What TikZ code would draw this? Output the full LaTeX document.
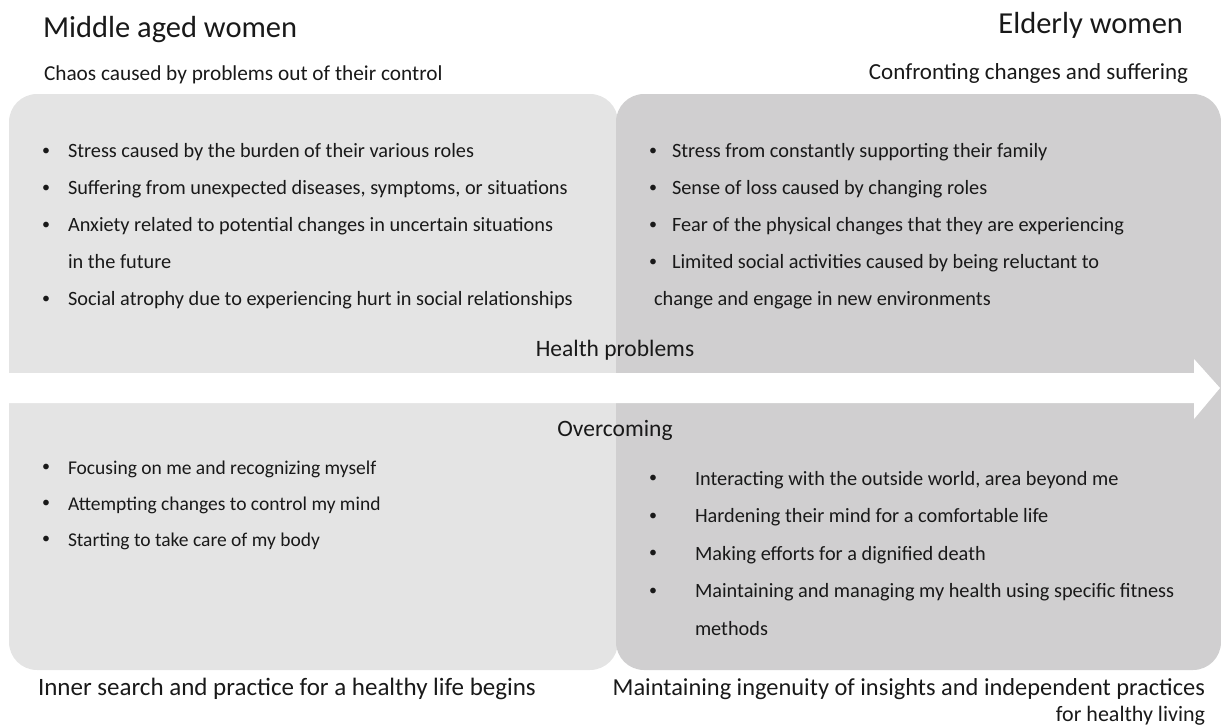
\documentclass[tikz,border=0pt]{standalone}
\usepackage{fontspec}
\setmainfont{Carlito}
\definecolor{leftgray}{RGB}{228,228,228}
\definecolor{rightgray}{RGB}{208,207,208}
\definecolor{ink}{RGB}{25,25,25}
\begin{document}
\begin{tikzpicture}[x=1pt,y=-1pt,
  every node/.style={inner sep=0pt,outer sep=0pt,text=ink},
  title/.style={font=\fontsize{30.5}{34}\selectfont},
  sub/.style={font=\fontsize{21.3}{25}\selectfont},
  item/.style={font=\fontsize{20.3}{24}\selectfont,anchor=base west},
  smallitem/.style={font=\fontsize{19.5}{23}\selectfont,anchor=base west},
  dot/.style={font=\fontsize{16}{19}\selectfont,anchor=base west},
  mid/.style={font=\fontsize{23.5}{27}\selectfont,anchor=base}]
\useasboundingbox (0,0) rectangle (1221,728);
% the two phase panels
\fill[leftgray,rounded corners=28pt] (9,94) rectangle (618,670);
\fill[rightgray,rounded corners=28pt] (616,94) rectangle (1221,670);
% white time arrow through both panels
\fill[white] (0,373) -- (1194,373) -- (1194,359) -- (1220,388)
  -- (1194,419) -- (1194,403) -- (0,403) -- cycle;

% headings
\node[title,anchor=base west] (mh) at (43,37.5) {Middle aged women};
\node[sub,anchor=base west] (ms) at (44,80) {Chaos caused by problems out of their control};
\node[title,anchor=base east] (eh) at (1183,33.5) {Elderly women};
\node[sub,anchor=base east,font=\fontsize{23}{27}\selectfont] (es) at (1188,79) {Confronting changes and suffering};

% middle-aged: health problems
\node[dot] (b1) at (42,155) {•};
\node[item] (t1) at (68,157.5) {Stress caused by the burden of their various roles};
\node[dot] (b2) at (42,192) {•};
\node[item] (t2) at (68,194.5) {Suffering from unexpected diseases, symptoms, or situations};
\node[dot] (b3) at (42,229) {•};
\node[item] (t3) at (68,231.5) {Anxiety related to potential changes in uncertain situations};
\node[item] (t3b) at (68,268.5) {in the future};
\node[dot] (b4) at (42,303) {•};
\node[item] (t4) at (68,305.5) {Social atrophy due to experiencing hurt in social relationships};

% elderly: health problems
\node[dot] (c1) at (649,155) {•};
\node[item] (u1) at (672,157.5) {Stress from constantly supporting their family};
\node[dot] (c2) at (649,192) {•};
\node[item] (u2) at (672,194.5) {Sense of loss caused by changing roles};
\node[dot] (c3) at (649,229) {•};
\node[item] (u3) at (672,231.5) {Fear of the physical changes that they are experiencing};
\node[dot] (c4) at (649,266) {•};
\node[item] (u4) at (672,268.5) {Limited social activities caused by being reluctant to};
\node[item] (u4b) at (654,305.5) {change and engage in new environments};

\node[mid] (hp) at (615,356) {Health problems};
\node[mid] (ov) at (615,436) {Overcoming};

% middle-aged: overcoming
\node[dot] (d1) at (42,471.5) {•};
\node[smallitem] (v1) at (68,474) {Focusing on me and recognizing myself};
\node[dot] (d2) at (42,507.5) {•};
\node[smallitem] (v2) at (68,510) {Attempting changes to control my mind};
\node[dot] (d3) at (42,543.5) {•};
\node[smallitem] (v3) at (68,546) {Starting to take care of my body};

% elderly: overcoming
\node[dot] (e1) at (649,482.5) {•};
\node[item] (w1) at (695,485) {Interacting with the outside world, area beyond me};
\node[dot] (e2) at (649,520) {•};
\node[item] (w2) at (695,522.5) {Hardening their mind for a comfortable life};
\node[dot] (e3) at (649,557.5) {•};
\node[item] (w3) at (695,560) {Making efforts for a dignified death};
\node[dot] (e4) at (649,595) {•};
\node[item] (w4) at (695,597.5) {Maintaining and managing my health using specific fitness};
\node[item] (w4b) at (695,635) {methods};

% closing captions
\node[anchor=base west,font=\fontsize{25}{29}\selectfont] (mf) at (38,695) {Inner search and practice for a healthy life begins};
\node[anchor=base east,font=\fontsize{24.4}{28}\selectfont] (ef) at (1205,695) {Maintaining ingenuity of insights and independent practices};
\node[anchor=base east,font=\fontsize{22}{26}\selectfont] (ef2) at (1205,721) {for healthy living};
\end{tikzpicture}
\end{document}
